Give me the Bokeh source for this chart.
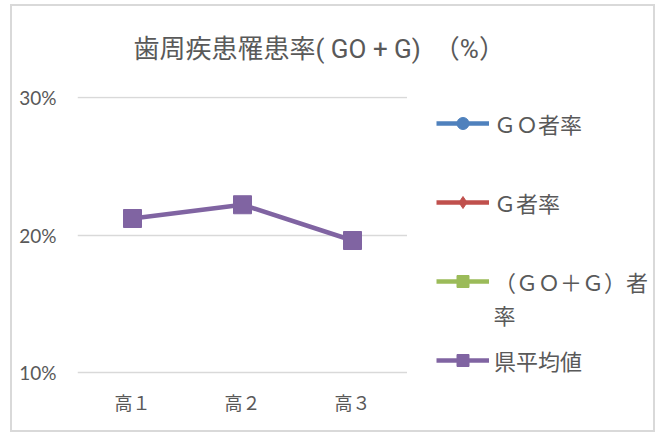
import math
from bokeh.plotting import figure
from bokeh.layouts import column, row
from bokeh.models import Legend, LegendItem, Label, FixedTicker, Range1d, CustomJSTickFormatter
from bokeh.embed import file_html
from bokeh.resources import INLINE

# ---- data ----
categories = ["高１", "高２", "高３"]
go_rate = [math.nan, math.nan, math.nan]
g_rate = [math.nan, math.nan, math.nan]
gog_rate = [math.nan, math.nan, math.nan]
pref_avg = [0.212, 0.222, 0.196]
y_ticks = [0.1, 0.2, 0.3]
series_names = ["ＧＯ者率", "Ｇ者率", "（ＧＯ＋Ｇ）者", "県平均値"]
series_name_wrap = "率"
title_text = "歯周疾患罹患率( GO + G)　（%）"

colors = ["#4F81BD", "#C0504D", "#9BBB59", "#8064A2"]
markers = ["circle", "diamond", "square", "square"]
TXT = "#595959"
JP = "Noto Sans CJK JP"


def blank(fig):
    fig.outline_line_color = None
    fig.background_fill_color = "white"
    fig.border_fill_color = "white"
    fig.xgrid.visible = False
    fig.ygrid.visible = False
    return fig


# ---- title strip ----
t = blank(figure(width=641, height=79, output_backend="svg", toolbar_location=None,
                 x_axis_location=None, y_axis_location=None, min_border=0,
                 x_range=Range1d(0, 1), y_range=Range1d(0, 1)))
t.add_layout(Label(x=121, y=37, x_units="screen", y_units="screen", text=title_text,
                   text_baseline="middle", text_align="left", text_font_size="26px",
                   text_font="Roboto, 'Noto Sans CJK JP'", text_color=TXT))

# ---- main plot ----
p = figure(width=395, height=345, x_range=categories, y_range=Range1d(0.09418, 0.30073),
           output_backend="svg", toolbar_location=None,
           min_border_left=65, min_border_right=0, min_border_top=11, min_border_bottom=50)
p.outline_line_color = None
p.background_fill_color = "white"
p.xgrid.grid_line_color = None
p.ygrid.grid_line_color = "#d9d9d9"
p.ygrid.grid_line_width = 1.5

p.yaxis.ticker = FixedTicker(ticks=y_ticks)
p.yaxis.formatter = CustomJSTickFormatter(code="return Math.round(tick*100) + '%';")
for ax in (p.xaxis, p.yaxis):
    ax.axis_line_color = None
    ax.major_tick_line_color = None
    ax.minor_tick_line_color = None
    ax.major_tick_out = 0
    ax.major_label_text_color = TXT
p.yaxis.major_label_text_font = "Lato"
p.yaxis.major_label_text_font_size = "19px"
p.yaxis.major_label_standoff = 21
p.xaxis.major_label_text_font = JP
p.xaxis.major_label_text_font_size = "18px"
p.xaxis.major_label_standoff = 8

all_series = [go_rate, g_rate, gog_rate, pref_avg]
for vals, c, m in zip(all_series, colors, markers):
    p.line(categories, vals, line_width=4.5, line_color=c)
    p.scatter(categories, vals, marker=m, size=18, fill_color=c, line_color=c)

# ---- legend strip ----
lg = blank(figure(width=246, height=345, output_backend="svg", toolbar_location=None,
                  x_axis_location=None, y_axis_location=None, min_border=0,
                  x_range=Range1d(0, 1), y_range=Range1d(0, 1)))
items = []
for name, c, m in zip(series_names, colors, markers):
    lr = lg.line(x=[0], y=[math.nan], line_width=4.5, line_color=c)
    sr = lg.scatter(x=[0], y=[math.nan], marker=m, size=18, fill_color=c, line_color=c)
    items.append(LegendItem(label=name, renderers=[lr, sr]))

legend = Legend(items=items, location=(29, 4), glyph_width=53, glyph_height=30,
                label_height=32, label_standoff=5, spacing=47, padding=0, margin=0,
                border_line_color=None, background_fill_alpha=0,
                label_text_font_size="22px", label_text_color=TXT, label_text_font=JP)
lg.add_layout(legend)
lg.add_layout(Label(x=86, y=67, x_units="screen", y_units="screen", text=series_name_wrap,
                    text_baseline="middle", text_align="left", text_font_size="22px",
                    text_color=TXT, text_font=JP))

layout = column(t, row(p, lg))
layout.styles = {"border": "2px solid #d9d9d9", "margin-left": "10px", "margin-top": "4px"}

open("out.html", "w").write(file_html(layout, INLINE))
